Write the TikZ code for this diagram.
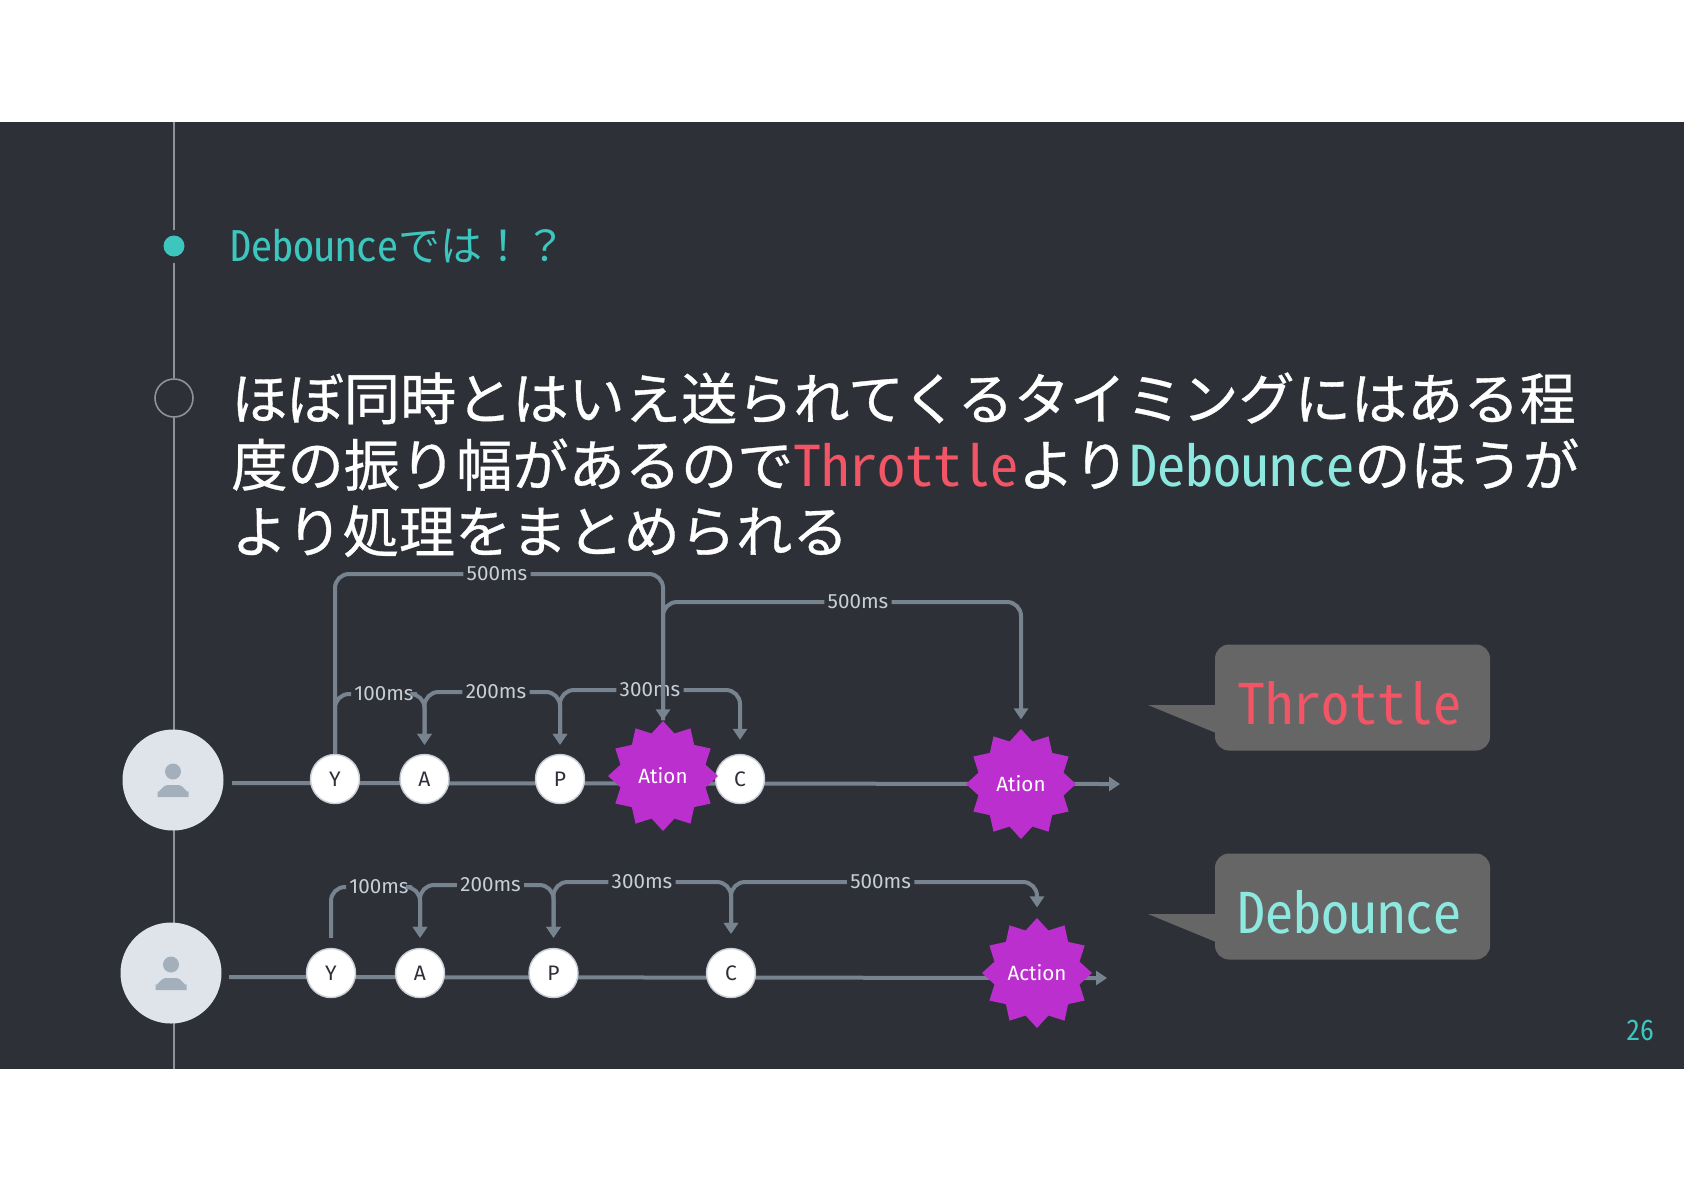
\documentclass[tikz,border=0pt]{standalone}
\usepackage{fontspec}
\usetikzlibrary{arrows.meta,shapes.geometric}
\newfontfamily\jpfont{Noto Sans CJK JP}
\newfontfamily\bodyfont[FakeBold=0.6]{Noto Sans CJK JP}
\newfontfamily\latnfont[RawFeature=+hwid]{Noto Sans CJK JP}
\newfontfamily\msfont{Fira Sans}
\definecolor{slide}{HTML}{2E3038}
\definecolor{rail}{HTML}{8E9196}
\definecolor{wirec}{HTML}{77838F}
\definecolor{tealc}{HTML}{3CC6BE}
\definecolor{burst}{HTML}{BC2FCF}
\definecolor{face}{HTML}{DFE4EB}
\definecolor{icon}{HTML}{A3B0BC}
\definecolor{bubblec}{HTML}{666666}
\definecolor{thr}{HTML}{F25565}
\definecolor{deb}{HTML}{8DE8DF}
\definecolor{msc}{HTML}{C8CED5}

\begin{document}
\begin{tikzpicture}[x=0.5pt,y=-0.5pt,>={Triangle[length=5.5pt,width=7pt]},
  wire/.style={draw=wirec,line width=2pt,rounded corners=7pt},
  ms/.style={font=\msfont\fontsize{10.3}{12}\selectfont,text=msc,inner sep=1.5pt},
  letter/.style={circle,draw=msc,line width=0.7pt,fill=white,minimum size=24.5pt,inner sep=0pt,
    text=slide,font=\msfont\fontsize{10.5}{12}\selectfont},
  action/.style={star,star points=12,star point ratio=1.25,fill=burst,minimum size=55pt,inner sep=0pt,
    text=white,font=\msfont\fontsize{10.3}{12}\selectfont},
  avatar/.style={circle,fill=face,minimum size=50.5pt,inner sep=0pt},
  bubble/.style={fill=bubblec,rounded corners=7pt,minimum width=137.5pt,minimum height=53pt,inner sep=0pt,
    font=\latnfont\fontsize{28}{28}\selectfont},
  usericon/.pic={\fill[icon] (0,-8.5) circle (8);
    \fill[icon] (-15.5,17) -- (-15.5,11) to[out=-90,in=180] (-6,5) -- (6,5) to[out=0,in=-90] (15.5,11) -- (15.5,17) -- cycle;}]
  \useasboundingbox (0,0) rectangle (1684,1191);
  \fill[slide] (0,122) rectangle (1684,1069);

  \node[circle,fill=tealc,minimum size=10.5pt,inner sep=0pt] (dot) at (174,246) {};
  \node[circle,draw=rail,line width=0.8pt,minimum size=19pt,inner sep=0pt] (ring) at (174,398) {};
  \coordinate (top) at (174,122);
  \coordinate (bot) at (174,1069);
  \draw[rail,line width=0.8pt] (top) -- (174,230) (174,263) -- (ring.north) (ring.south) -- (bot);
  \node[avatar] (av1) at (173,780) {};
  \node[avatar] (av2) at (171,973) {};
  \pic at (av1) {usericon};
  \pic at (av2) {usericon};

  \node[anchor=west,inner sep=0pt,text=tealc,font=\fontsize{21}{24}\selectfont] (head) at (230,246) {{\latnfont Debounce}{\jpfont では！？}};
  \node[anchor=north west,inner sep=0pt,align=left,text=white,font=\bodyfont\fontsize{28.1}{33.2}\selectfont] (body) at (231,372)
    {ほぼ同時とはいえ送られてくるタイミングにはある程\\
     度の振り幅があるので{\latnfont\color{thr}Throttle}より{\latnfont\color{deb}Debounce}のほうが\\
     より処理をまとめられる};

  \coordinate (s1) at (232,783);
  \coordinate (e1) at (1120,784);
  \draw[wire,->] (s1) -- (e1);
  \node[letter] (y1) at (335,779) {Y};
  \node[letter] (a1) at (424.5,779) {A};
  \node[letter] (p1) at (560,779) {P};
  \node[letter] (c1) at (740,779) {C};
  \node[action] (ac1) at (663,776) {Ation};
  \node[action] (ac2) at (1021,784) {Ation};
  \node[ms] (t5a) at (497,574) {500ms};
  \node[ms] (t5b) at (858,602) {500ms};
  \node[ms] (t1) at (384,694) {100ms};
  \node[ms] (t2) at (496,692) {200ms};
  \node[ms] (t3) at (650,690) {300ms};
  \draw[wire] (y1.north) |- (t5a.west);
  \draw[wire,->] (t5a.east) -| (ac1.north);
  \draw[wire] (t5b.west) -| (ac1.north);
  \draw[wire,->,shorten >=4.5pt] (t5b.east) -| (ac2.north);
  \draw[wire] (t1.west) -| (y1.north);
  \draw[wire,->,shorten >=4.5pt] (t1.east) -| (a1.north);
  \draw[wire,->,shorten >=4.5pt] (t2.west) -| (a1.north);
  \draw[wire,->,shorten >=4.5pt] (t2.east) -| (p1.north);
  \draw[wire,->,shorten >=4.5pt] (t3.west) -| (p1.north);
  \draw[wire,->,shorten >=7pt] (t3.east) -| (c1.north);

  \coordinate (s2) at (229,977);
  \coordinate (e2) at (1107,978);
  \draw[wire,->] (s2) -- (e2);
  \node[letter] (y2) at (331,973) {Y};
  \node[letter] (a2) at (420,973) {A};
  \node[letter] (p2) at (553.5,973) {P};
  \node[letter] (c2) at (731,973) {C};
  \node[action] (ac3) at (1037,973) {Action};
  \node[ms] (u1) at (379,887) {100ms};
  \node[ms] (u2) at (490.6,885) {200ms};
  \node[ms] (u3) at (642,882) {300ms};
  \node[ms] (u5) at (880.6,882) {500ms};
  \draw[wire,shorten >=5pt] (u1.west) -| (y2.north);
  \draw[wire,->,shorten >=5pt] (u1.east) -| (a2.north);
  \draw[wire,->,shorten >=5pt] (u2.west) -| (a2.north);
  \draw[wire,->,shorten >=5pt] (u2.east) -| (p2.north);
  \draw[wire,->,shorten >=5pt] (u3.west) -| (p2.north);
  \draw[wire,->,shorten >=7pt] (u3.east) -| (c2.north);
  \draw[wire,->,shorten >=7pt] (u5.west) -| (c2.north);
  \draw[wire,->,shorten >=5pt] (u5.east) -| (ac3.north);

  \node[bubble,text=thr] (bthr) at (1352.5,697.5) {\raisebox{-13.5pt}[0pt][0pt]{Throttle}\rule{2.7pt}{0pt}};
  \node[bubble,text=deb] (bdeb) at (1352.5,906.5) {\raisebox{-13.5pt}[0pt][0pt]{Debounce}\rule{2.7pt}{0pt}};
  \coordinate (tipa) at (1148,705);
  \coordinate (tipb) at (1148,914);
  \fill[bubblec] (tipa) -- (1216,705) -- (1216,733) -- cycle;
  \fill[bubblec] (tipb) -- (1216,914) -- (1216,942) -- cycle;

  \node[text=tealc,inner sep=0pt,font=\latnfont\fontsize{14}{16}\selectfont] (page) at (1640,1030) {26};
\end{tikzpicture}
\end{document}
